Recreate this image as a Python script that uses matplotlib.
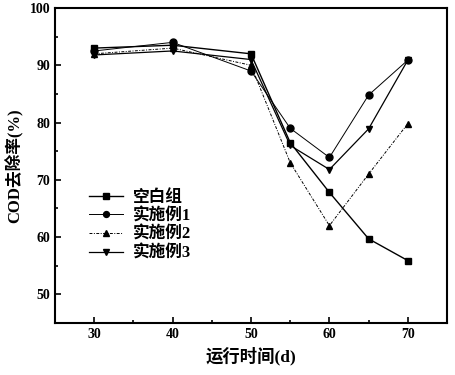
import matplotlib
matplotlib.use("Agg")
import matplotlib.pyplot as plt
from matplotlib.ticker import MultipleLocator

plt.rcParams['font.family'] = ['Liberation Serif', 'Noto Sans CJK SC']
plt.rcParams['font.weight'] = 'bold'

# 运行时间 (d)
days = [30, 40, 50, 55, 60, 65, 70]
# COD 去除率 (%)
blank = [93.0, 93.5, 92.0, 76.5, 67.8, 59.7, 55.9]
ex1 = [92.5, 94.0, 89.0, 79.0, 73.9, 84.8, 90.9]
ex2 = [92.0, 93.0, 90.0, 73.0, 62.0, 71.0, 79.8]
ex3 = [91.8, 92.5, 91.0, 76.0, 71.8, 78.9, 90.9]
labels = ['空白组', '实施例1', '实施例2', '实施例3']

fig = plt.figure(figsize=(4.56, 3.75), dpi=100)
ax = fig.add_axes([55/456, 1 - 323/375, 392/456, 315/375])

ax.plot(days, blank, color='black', marker='s', markersize=5, linewidth=1.0, label=labels[0])
ax.plot(days, ex1, color='black', marker='o', markersize=5, linewidth=0.7, label=labels[1])
ax.plot(days, ex2, color='black', marker='^', markersize=5, linewidth=0.7, linestyle=(0, (3, 1.5, 1, 1.5)), label=labels[2])
ax.plot(days, ex3, color='black', marker='v', markersize=5, linewidth=0.9, label=labels[3])

ax.set_xlim(25, 75)
ax.set_ylim(45, 100)
ax.xaxis.set_major_locator(MultipleLocator(10))
ax.xaxis.set_minor_locator(MultipleLocator(5))
ax.yaxis.set_major_locator(MultipleLocator(10))
ax.yaxis.set_minor_locator(MultipleLocator(5))
ax.tick_params(which='both', direction='in', labelsize=10, width=1.2)
ax.tick_params(which='major', length=4)
ax.tick_params(which='minor', length=2)
for s in ax.spines.values():
    s.set_linewidth(1.5)

ax.set_xlabel('运行时间(d)', fontsize=12.5, fontweight='bold', labelpad=4)
ax.set_ylabel('COD去除率(%)', fontsize=12, fontweight='bold', labelpad=4)

leg = ax.legend(loc='upper left', bbox_to_anchor=(0.071, 0.444), frameon=False,
                handlelength=2.0, labelspacing=0.15, handletextpad=0.6,
                borderaxespad=0, markerscale=0.85,
                prop={'weight': 'bold', 'size': 12})

fig.savefig('out.png', dpi=100)
